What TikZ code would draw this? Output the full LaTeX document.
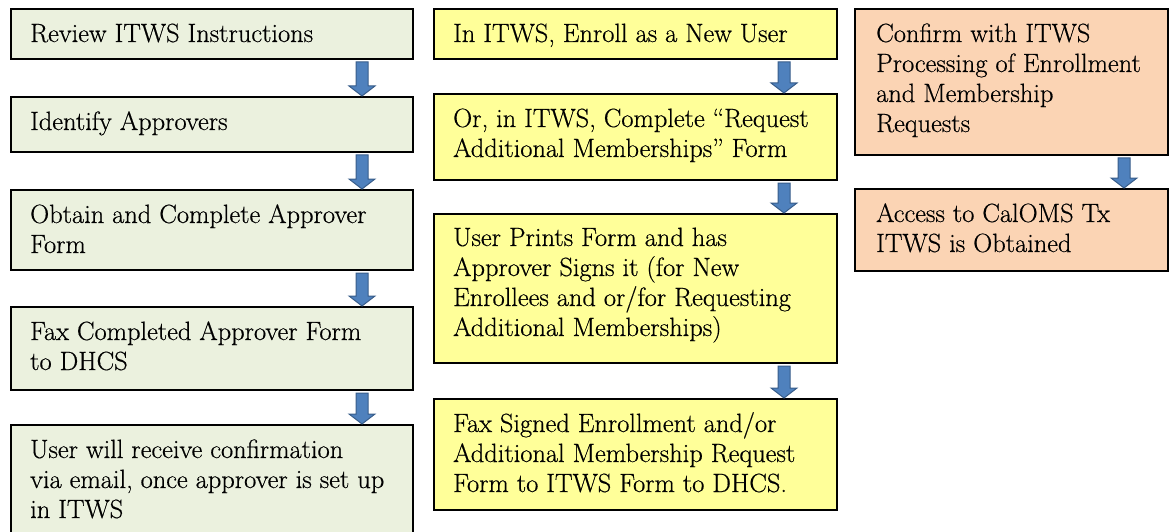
\documentclass[tikz,border=0pt]{standalone}
\usepackage{fontspec}
\newfontfamily\boxfont[FakeBold=0.5]{Latin Modern Roman}
\usetikzlibrary{calc}
\definecolor{boxgreen}{HTML}{EBF1DE}
\definecolor{boxyellow}{HTML}{FFFF99}
\definecolor{boxpeach}{HTML}{FBD4B4}
\definecolor{arrowblue}{HTML}{4F81BD}
\definecolor{arrowborder}{HTML}{385D8A}
\tikzset{
  box/.style={draw=black, line width=2pt, rectangle, inner sep=0pt, anchor=north west},
  gbox/.style={box, fill=boxgreen, minimum width=402pt},
  ybox/.style={box, fill=boxyellow, minimum width=403pt},
  pbox/.style={box, fill=boxpeach, minimum width=313pt},
  txt/.style={anchor=base west, inner sep=0pt},
  barrow/.style={fill=arrowblue, draw=arrowborder, line width=1pt, line join=miter}
}
\newcommand\blockarrow[2]{%
  \draw[barrow] let \p1=#1, \p2=#2 in
    (\x1-6pt,\y1) -- (\x1+6pt,\y1) -- (\x1+6pt,\y2+10pt) -- (\x1+13pt,\y2+10pt)
    -- (\x1,\y2) -- (\x1-13pt,\y2+10pt) -- (\x1-6pt,\y2+10pt) -- cycle;}
\newcommand\boxtext[1]{\parbox[t]{400pt}{\boxfont\fontsize{26.4}{30}\selectfont\raggedright #1}}
\begin{document}
\begin{tikzpicture}[x=1pt,y=-1pt]
\useasboundingbox (0,0) rectangle (1170,532);
\clip (0,0) rectangle (1170,532);
% left column
\node[gbox, minimum height=50pt] (l1) at (10,8) {};
\node[gbox, minimum height=55pt] (l2) at (10,96) {};
\node[gbox, minimum height=80pt] (l3) at (10,189) {};
\node[gbox, minimum height=83pt] (l4) at (10,306) {};
\node[gbox, minimum height=120pt] (l5) at (10,424) {};
% middle column
\node[ybox, minimum height=50pt] (m1) at (433,8) {};
\node[ybox, minimum height=86pt] (m2) at (433,93) {};
\node[ybox, minimum height=149pt] (m3) at (433,213) {};
\node[ybox, minimum height=111pt] (m4) at (433,398) {};
% right column
\node[pbox, minimum height=146pt] (r1) at (854,8) {};
\node[pbox, minimum height=82pt] (r2) at (854,188) {};
% texts
\node[txt] (l1t) at ($(l1.north west)+(20,34)$) {\boxtext{Review ITWS Instructions}};
\node[txt] (l2t) at ($(l2.north west)+(20,34)$) {\boxtext{Identify Approvers}};
\node[txt] (l3t) at ($(l3.north west)+(20,34)$) {\boxtext{Obtain and Complete Approver\\Form}};
\node[txt] (l4t) at ($(l4.north west)+(20,34)$) {\boxtext{Fax Completed Approver Form\\to DHCS}};
\node[txt] (l5t) at ($(l5.north west)+(20,34)$) {\boxtext{User will receive confirmation\\via email, once approver is set up\\in ITWS}};
\node[txt] (m1t) at ($(m1.north west)+(20,34)$) {\boxtext{In ITWS, Enroll as a New User}};
\node[txt] (m2t) at ($(m2.north west)+(20,34)$) {\boxtext{Or, in ITWS, Complete “Request\\Additional Memberships” Form}};
\node[txt] (m3t) at ($(m3.north west)+(20,33)$) {\boxtext{User Prints Form and has\\Approver Signs it (for New\\Enrollees and or/for Requesting\\Additional Memberships)}};
\node[txt] (m4t) at ($(m4.north west)+(20,34)$) {\boxtext{Fax Signed Enrollment and/or\\Additional Membership Request\\Form to ITWS Form to DHCS.}};
\node[txt] (r1t) at ($(r1.north west)+(22,34)$) {\boxtext{Confirm with ITWS\\Processing of Enrollment\\and Membership\\Requests}};
\node[txt] (r2t) at ($(r2.north west)+(22,34)$) {\boxtext{Access to CalOMS Tx\\ITWS is Obtained}};
% arrows
\blockarrow{($(l1.south west)+(352,2)$)}{($(l2.north west)+(352,0)$)}
\blockarrow{($(l2.south west)+(352,2)$)}{($(l3.north west)+(352,0)$)}
\blockarrow{($(l3.south west)+(352,2)$)}{($(l4.north west)+(352,0)$)}
\blockarrow{($(l4.south west)+(352,2)$)}{($(l5.north west)+(352,0)$)}
\blockarrow{($(m1.south west)+(351,2)$)}{($(m2.north west)+(351,0)$)}
\blockarrow{($(m2.south west)+(351,2)$)}{($(m3.north west)+(351,0)$)}
\blockarrow{($(m3.south west)+(351,2)$)}{($(m4.north west)+(351,0)$)}
\blockarrow{($(r1.south west)+(270,2)$)}{($(r2.north west)+(270,0)$)}
\end{tikzpicture}
\end{document}
